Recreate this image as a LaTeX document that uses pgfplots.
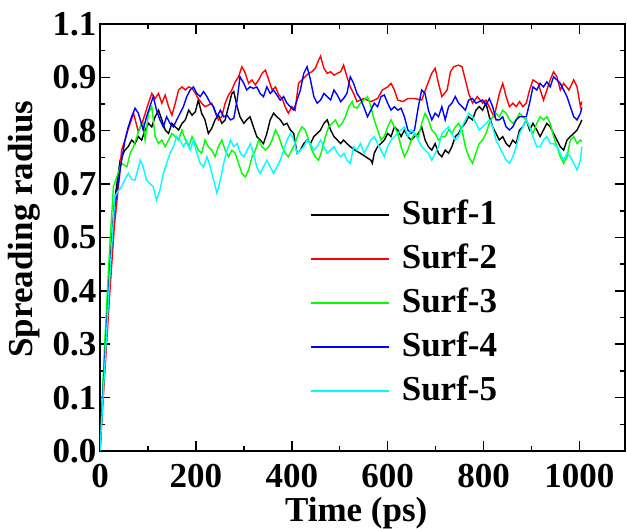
\documentclass[border=0pt]{standalone}
\usepackage{fontspec}
\setmainfont{Liberation Serif}
\usepackage{pgfplots}
\pgfplotsset{compat=1.18}
\definecolor{cC}{rgb}{0,1,1}
\definecolor{gG}{rgb}{0,1,0}
\definecolor{rR}{rgb}{1,0,0}
\definecolor{bB}{rgb}{0,0,1}
\definecolor{kK}{rgb}{0,0,0}
\pgfplotsset{
  longline/.style={legend image code/.code={\draw[##1,line width=1.6pt] (0pt,0pt) -- (78pt,0pt);}},
}
\begin{document}
\begin{tikzpicture}[x=1pt,y=1pt]
\begin{axis}[
  at={(100pt,78pt)}, anchor=south west,
  scale only axis, width=525pt, height=427pt,
  xmin=0, xmax=1095, ymin=0, ymax=1.1,
  xtick={0,200,400,600,800,1000},
  minor x tick num=1,
  ytick={0,0.1375,0.275,0.4125,0.55,0.6875,0.825,0.9625,1.1},
  yticklabels={0.0,0.1,0.3,0.4,0.5,0.7,0.8,0.9,1.1},
  minor y tick num=1,
  /pgf/number format/assume math mode=true,
  /pgf/number format/1000 sep={},
  tick label style={font=\fontsize{35}{40}\selectfont\bfseries},
  xticklabel style={yshift=-10pt},
  major tick length=10pt, minor tick length=5pt,
  every tick/.style={line width=1.5pt, black},
  axis line style={line width=1.8pt},
  every axis x label/.style={at={(rel axis cs:0.488,0)}, anchor=north, yshift=-46pt, inner sep=0pt, font=\fontsize{35}{40}\selectfont\bfseries},
  every axis y label/.style={at={(axis description cs:-0.1752,0.52)}, rotate=90, anchor=north, inner sep=0pt, font=\fontsize{35}{40}\selectfont\bfseries},
  xlabel={Time (ps)},
  ylabel={Spreading radius},
  legend style={draw=none, fill=none, inner sep=0pt, at={(rel axis cs:0.4,0.5925)}, anchor=north west,
    font=\fontsize{35}{40}\selectfont\bfseries, row sep=10pt,
    nodes={inner sep=2pt, text height=24pt, text depth=6pt},
    /tikz/every odd column/.append style={column sep=10pt}},
  legend cell align=left,
  longline,
  every axis plot/.append style={line width=1.4pt},
]
\addplot[color=kK] coordinates {
(0,0) (10,0.25) (20,0.47) (30,0.64) (42,0.749) (52,0.775) (59,0.784) (66,0.801) (73,0.792) (80,0.810) (87,0.801) (94,0.827) (101,0.844) (108,0.835) (115,0.861) (122,0.878) (129,0.853) (136,0.827) (143,0.818) (150,0.844) (157,0.835) (164,0.827) (171,0.844) (178,0.853) (185,0.878) (192,0.865) (199,0.874) (205,0.904) (212,0.870) (219,0.853) (226,0.818) (233,0.831) (240,0.853) (247,0.865) (254,0.844) (261,0.853) (268,0.887) (275,0.921) (279,0.926) (286,0.887) (292,0.861) (300,0.844) (306,0.853) (313,0.861) (320,0.835) (327,0.810) (334,0.801) (341,0.792) (348,0.818) (355,0.853) (362,0.870) (369,0.861) (376,0.853) (383,0.840) (390,0.844) (397,0.827) (404,0.818) (411,0.767) (418,0.775) (425,0.792) (432,0.801) (439,0.792) (446,0.810) (453,0.818) (460,0.827) (467,0.844) (474,0.853) (481,0.827) (488,0.810) (495,0.801) (502,0.792) (508,0.801) (515,0.792) (522,0.784)
(532,0.775) (543,0.767) (554,0.758) (565,0.749) (568,0.741) (572,0.767) (579,0.784) (586,0.792) (593,0.801) (600,0.818) (607,0.810) (614,0.835) (621,0.827) (628,0.810) (635,0.827) (642,0.810) (649,0.801) (656,0.810) (664,0.818) (671,0.835) (678,0.801) (685,0.784) (692,0.775) (699,0.792) (706,0.767) (713,0.758) (720,0.775) (727,0.767) (734,0.784) (741,0.810) (748,0.818) (755,0.835) (762,0.844) (769,0.861) (777,0.853) (784,0.878) (791,0.887) (798,0.878) (805,0.896) (812,0.861) (819,0.835) (826,0.818) (833,0.801) (840,0.810) (847,0.792) (854,0.784) (861,0.801) (868,0.792) (875,0.827) (882,0.835) (889,0.853) (896,0.827) (903,0.844) (911,0.827) (918,0.810) (925,0.827) (932,0.844) (939,0.835) (946,0.818) (953,0.801) (960,0.784) (967,0.775) (974,0.801) (981,0.810) (988,0.818) (995,0.827) (1002,0.844) (1005,0.853)
};
\addlegendentry{Surf-1}
\addplot[color=rR] coordinates {
(0,0) (10,0.20) (20,0.40) (30,0.58) (40,0.70) (45,0.775) (52,0.80) (59,0.83) (63,0.844) (70,0.870) (80,0.822) (90,0.853) (101,0.896) (108,0.921) (115,0.908) (122,0.921) (129,0.896) (136,0.917) (143,0.887) (150,0.865) (157,0.896) (164,0.930) (171,0.938) (178,0.930) (185,0.938) (192,0.934) (199,0.921) (205,0.908) (212,0.896) (219,0.887) (226,0.891) (233,0.896) (240,0.874) (247,0.853) (254,0.861) (261,0.896) (268,0.917) (275,0.930) (282,0.951) (289,0.964) (296,0.990) (303,0.973) (310,0.947) (317,0.956) (324,0.943) (331,0.956) (338,0.973) (345,0.981) (352,0.956) (359,0.930) (366,0.938) (373,0.917) (380,0.908) (386,0.887) (393,0.870) (400,0.887) (407,0.878) (414,0.947) (421,0.956) (428,0.964) (435,0.973) (442,0.977) (449,0.986) (456,1.007) (460,1.017) (467,0.986) (474,0.973) (481,0.977) (488,0.968) (495,0.973) (502,0.977) (508,0.994) (515,0.964) (522,0.938) (529,0.921)
(536,0.900) (550,0.908) (565,0.900) (579,0.908) (589,0.930) (600,0.938) (607,0.947) (614,0.930) (621,0.904) (632,0.900) (642,0.908) (656,0.908) (671,0.904) (681,0.938) (692,0.973) (699,0.986) (706,0.947) (713,0.913) (724,0.930) (731,0.977) (738,0.990) (748,0.994) (755,0.990) (762,0.956) (769,0.921) (777,0.896) (787,0.913) (798,0.896) (805,0.904) (815,0.878) (822,0.861) (833,0.921) (840,0.947) (847,0.913) (854,0.887) (861,0.896) (868,0.887) (875,0.900) (882,0.887) (889,0.896) (896,0.930) (903,0.956) (914,0.947) (925,0.904) (932,0.930) (939,0.956) (946,0.977) (953,0.964) (960,0.930) (967,0.947) (978,0.930) (988,0.956) (995,0.938) (1002,0.887) (1005,0.900)
};
\addlegendentry{Surf-2}
\addplot[color=gG] coordinates {
(0,0) (10,0.28) (20,0.52) (28,0.681) (35,0.706) (45,0.741) (56,0.732) (63,0.767) (70,0.784) (77,0.81) (84,0.835) (90,0.844) (94,0.801) (101,0.870) (108,0.887) (115,0.810) (122,0.792) (129,0.801) (136,0.784) (143,0.801) (150,0.818) (157,0.810) (164,0.801) (171,0.827) (178,0.801) (185,0.784) (192,0.810) (199,0.792) (205,0.775) (212,0.767) (219,0.801) (226,0.784) (233,0.775) (240,0.758) (247,0.784) (254,0.801) (261,0.775) (268,0.758) (275,0.775) (282,0.767) (289,0.741) (296,0.715) (303,0.706) (310,0.724) (317,0.758) (324,0.775) (331,0.801) (338,0.784) (345,0.775) (352,0.784) (359,0.801) (366,0.827) (373,0.810) (380,0.784) (386,0.767) (393,0.758) (400,0.775) (407,0.792) (414,0.818) (421,0.835) (428,0.827) (435,0.801) (442,0.775) (449,0.758) (456,0.749) (463,0.775) (470,0.810) (477,0.835) (484,0.844) (491,0.853) (498,0.835) (505,0.844) (512,0.861) (519,0.887) (526,0.900)
(529,0.887) (536,0.883) (543,0.896) (550,0.904) (558,0.913) (565,0.887) (572,0.853) (579,0.827) (586,0.801) (593,0.810) (600,0.835) (607,0.853) (614,0.835) (621,0.818) (628,0.784) (635,0.758) (642,0.775) (649,0.801) (656,0.818) (664,0.810) (671,0.844) (678,0.870) (685,0.853) (692,0.827) (699,0.818) (706,0.801) (713,0.810) (720,0.810) (727,0.827) (734,0.818) (741,0.835) (748,0.844) (755,0.827) (762,0.784) (769,0.758) (777,0.741) (784,0.767) (791,0.792) (798,0.801) (805,0.818) (812,0.844) (819,0.861) (826,0.870) (833,0.861) (840,0.878) (847,0.870) (854,0.853) (861,0.844) (868,0.853) (875,0.870) (882,0.861) (889,0.853) (896,0.835) (903,0.818) (911,0.844) (918,0.861) (925,0.853) (932,0.861) (939,0.844) (946,0.810) (953,0.784) (960,0.758) (967,0.741) (974,0.758) (981,0.801) (988,0.810) (995,0.792) (1002,0.801) (1005,0.797)
};
\addlegendentry{Surf-3}
\addplot[color=bB] coordinates {
(0,0) (10,0.24) (20,0.45) (30,0.62) (42,0.724) (52,0.80) (59,0.835) (66,0.861) (73,0.883) (80,0.87) (84,0.853) (90,0.827) (97,0.861) (104,0.887) (111,0.913) (118,0.878) (125,0.853) (132,0.835) (139,0.861) (146,0.844) (153,0.835) (160,0.853) (167,0.870) (174,0.887) (181,0.913) (188,0.930) (195,0.938) (202,0.921) (209,0.913) (216,0.926) (223,0.913) (230,0.896) (237,0.887) (244,0.861) (251,0.878) (258,0.861) (265,0.865) (272,0.853) (279,0.857) (286,0.904) (292,0.964) (300,0.947) (306,0.930) (313,0.938) (320,0.934) (327,0.938) (334,0.921) (341,0.913) (348,0.938) (355,0.921) (362,0.930) (369,0.917) (376,0.904) (383,0.913) (390,0.896) (397,0.887) (404,0.878) (411,0.904) (418,0.930) (425,0.973) (432,0.990) (439,0.956) (446,0.913) (453,0.896) (460,0.904) (467,0.921) (474,0.913) (481,0.904) (488,0.930) (495,0.917) (502,0.900) (508,0.908) (515,0.921) (522,0.964) (529,0.947)
(536,0.921) (543,0.908) (550,0.887) (558,0.861) (565,0.878) (572,0.896) (579,0.887) (586,0.913) (593,0.917) (600,0.896) (607,0.878) (614,0.887) (621,0.878) (628,0.883) (635,0.861) (642,0.827) (649,0.818) (656,0.827) (664,0.887) (671,0.930) (678,0.921) (685,0.878) (692,0.853) (699,0.870) (706,0.861) (713,0.887) (720,0.853) (727,0.887) (734,0.896) (741,0.913) (748,0.896) (755,0.887) (762,0.878) (769,0.904) (777,0.908) (784,0.896) (791,0.900) (798,0.904) (805,0.891) (812,0.908) (819,0.887) (826,0.853) (833,0.853) (840,0.861) (847,0.835) (854,0.827) (861,0.835) (868,0.853) (875,0.861) (882,0.861) (889,0.861) (896,0.896) (903,0.938) (911,0.930) (918,0.947) (925,0.938) (932,0.951) (939,0.938) (946,0.964) (953,0.956) (960,0.947) (967,0.930) (974,0.913) (981,0.887) (988,0.861) (995,0.853) (1002,0.870) (1005,0.885)
};
\addlegendentry{Surf-4}
\addplot[color=cC] coordinates {
(0,0) (10,0.22) (20,0.44) (31,0.655) (38,0.67) (45,0.681) (52,0.70) (59,0.715) (66,0.70) (73,0.698) (80,0.73) (84,0.749) (90,0.732) (97,0.698) (104,0.689) (111,0.681) (118,0.646) (125,0.672) (132,0.715) (139,0.741) (146,0.767) (153,0.784) (160,0.810) (167,0.801) (174,0.784) (181,0.801) (188,0.775) (195,0.801) (202,0.767) (209,0.741) (216,0.732) (223,0.758) (230,0.732) (237,0.698) (244,0.664) (251,0.698) (258,0.741) (265,0.775) (272,0.801) (279,0.784) (286,0.792) (293,0.767) (300,0.758) (307,0.775) (314,0.792) (320,0.767) (327,0.732) (334,0.715) (341,0.732) (348,0.749) (355,0.732) (362,0.715) (369,0.732) (376,0.749) (383,0.775) (390,0.801) (397,0.818) (404,0.801) (411,0.767) (418,0.775) (425,0.784) (432,0.801) (439,0.792) (446,0.775) (453,0.784) (460,0.801) (467,0.784) (474,0.767) (481,0.775) (488,0.784) (495,0.767) (502,0.758) (509,0.767) (515,0.749) (522,0.741)
(529,0.784) (536,0.775) (543,0.792) (551,0.767) (558,0.784) (565,0.801) (572,0.810) (579,0.792) (586,0.775) (593,0.758) (600,0.784) (607,0.801) (614,0.810) (621,0.818) (628,0.827) (635,0.835) (642,0.810) (649,0.827) (656,0.818) (664,0.801) (671,0.784) (678,0.775) (685,0.767) (692,0.749) (699,0.767) (706,0.784) (713,0.818) (720,0.827) (727,0.835) (734,0.818) (741,0.801) (748,0.810) (755,0.835) (762,0.853) (769,0.870) (777,0.861) (784,0.844) (791,0.827) (798,0.835) (805,0.844) (812,0.853) (819,0.835) (826,0.801) (833,0.784) (840,0.767) (847,0.749) (854,0.741) (861,0.758) (868,0.784) (875,0.818) (882,0.835) (889,0.853) (896,0.835) (903,0.810) (911,0.784) (918,0.784) (925,0.801) (932,0.810) (939,0.792) (946,0.792) (953,0.784) (960,0.767) (967,0.749) (974,0.767) (981,0.758) (988,0.741) (995,0.724) (1002,0.749) (1005,0.784)
};
\addlegendentry{Surf-5}
\end{axis}
\pgfresetboundingbox
\path[use as bounding box] (0,0) rectangle (627,529);
\end{tikzpicture}
\end{document}
